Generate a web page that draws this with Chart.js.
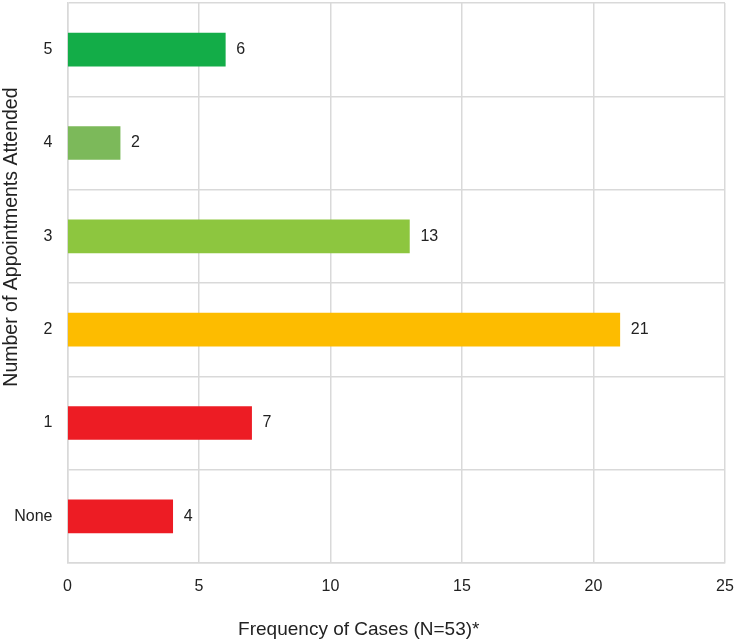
<!DOCTYPE html>
<html>
<head>
<meta charset="utf-8">
<script src="https://cdn.jsdelivr.net/npm/chart.js@4"></script>
<style>
  html, body { margin: 0; padding: 0; background: #fff; }
  #wrap { width: 737px; height: 644px; }
</style>
</head>
<body>
<div id="wrap"><canvas id="graficoBarras"></canvas></div>
<script>
const categorias = ["5", "4", "3", "2", "1", "None"];
const frecuencias = [6, 2, 13, 21, 7, 4];
const colores = ["#13ad48", "#7cb95a", "#8dc63f", "#fdbc00", "#ed1c24", "#ed1c24"];
const ticksX = [0, 5, 10, 15, 20, 25];
const tituloX = "Frequency of Cases (N=53)*";
const tituloY = "Number of Appointments Attended";

Chart.defaults.font.family = "'Liberation Sans', Arial, sans-serif";
Chart.defaults.font.size = 16;
Chart.defaults.color = "#222";

// etiquetas de valor al final de cada barra
const etiquetas = {
    id: "etiquetas",
    afterDatasetsDraw(chart) {
        const ctx = chart.ctx;
        const meta = chart.getDatasetMeta(0);
        ctx.save();
        ctx.font = "16px 'Liberation Sans', Arial, sans-serif";
        ctx.fillStyle = "#222";
        ctx.textAlign = "left";
        ctx.textBaseline = "middle";
        meta.data.forEach((bar, i) => {
            ctx.fillText(String(frecuencias[i]), bar.x + 11, bar.y);
        });
        ctx.restore();
    }
};

// titulos de los ejes (no van centrados en el original)
const titulos = {
    id: "titulos",
    afterDraw(chart) {
        const ctx = chart.ctx;
        const a = chart.chartArea;
        ctx.save();
        ctx.fillStyle = "#222";
        ctx.textAlign = "center";
        ctx.textBaseline = "middle";
        ctx.font = "19px 'Liberation Sans', Arial, sans-serif";
        ctx.fillText(tituloX, a.left + (a.right - a.left) * 0.443, 630);
        ctx.translate(12, a.top + (a.bottom - a.top) * 0.418);
        ctx.rotate(-Math.PI / 2);
        ctx.font = "19.5px 'Liberation Sans', Arial, sans-serif";
        ctx.fillText(tituloY, 0, 0);
        ctx.restore();
    }
};

let miCanvas = document.getElementById("graficoBarras").getContext("2d");
var chart = new Chart(miCanvas, {
    type: "bar",
    data: {
        labels: categorias,
        datasets: [
            {
                data: frecuencias,
                backgroundColor: colores,
                borderWidth: 0,
                barThickness: 33
            }
        ]
    },
    options: {
        indexAxis: "y",
        responsive: true,
        maintainAspectRatio: false,
        animation: false,
        layout: { padding: { top: 3, right: 12, bottom: 3, left: 0 } },
        plugins: {
            legend: { display: false },
            tooltip: { enabled: false }
        },
        scales: {
            x: {
                min: 0,
                max: 25,
                afterBuildTicks: (axis) => { axis.ticks = ticksX.map(v => ({ value: v })); },
                afterFit: (axis) => {
                    axis.height = 78;
                    axis.paddingLeft = 0; axis.paddingRight = 0;
                    axis.paddingTop = 0; axis.paddingBottom = 0;
                },
                grid: { color: "#d9d9d9", lineWidth: 1.5, drawTicks: false },
                border: { color: "#d9d9d9", width: 1.5 },
                ticks: { padding: 14 }
            },
            y: {
                afterFit: (axis) => {
                    axis.width = 67.5;
                    axis.paddingTop = 0; axis.paddingBottom = 0;
                    axis.paddingLeft = 0; axis.paddingRight = 0;
                },
                grid: { color: "#d9d9d9", lineWidth: 1.5, drawTicks: false, offset: true },
                border: { color: "#d9d9d9", width: 1.5 },
                ticks: { padding: 15 }
            }
        }
    },
    plugins: [etiquetas, titulos]
});
</script>
</body>
</html>
